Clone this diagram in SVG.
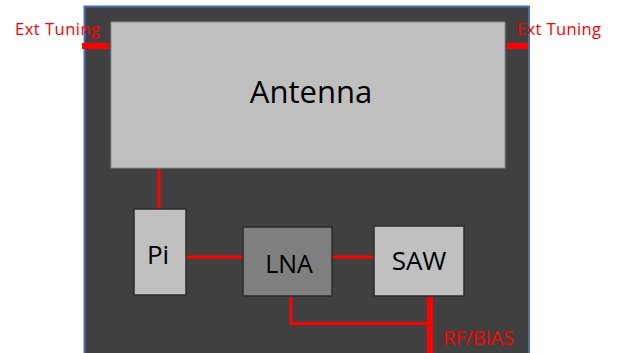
<svg xmlns="http://www.w3.org/2000/svg" width="627" height="353" viewBox="0 0 627 353">
<style>
.lbl{font-family:"Open Sans","Liberation Sans",sans-serif;fill:#000;text-anchor:middle}
.red{font-family:"Open Sans","Liberation Sans",sans-serif;fill:#ff0000}
.box{stroke:#2b2b2b;stroke-width:1.5}
.wire{stroke:#ff0000;stroke-width:3;fill:none}
</style>
<rect x="0" y="0" width="627" height="353" fill="#ffffff"/>
<g id="board">
<rect x="84.5" y="6.5" width="444.5" height="360" fill="#404040" stroke="#4a6fb0" stroke-width="2"/>
</g>
<g id="connectors">
<line class="wire" x1="159" y1="168" x2="159" y2="209"/>
<line class="wire" x1="186" y1="257" x2="243" y2="257"/>
<line class="wire" x1="332" y1="257" x2="374" y2="257"/>
<polyline class="wire" points="291,296 291,323.5 430,323.5"/>
<line stroke="#ff0000" stroke-width="6" x1="430" y1="296" x2="430" y2="353"/>
<rect x="82" y="43" width="27" height="6" fill="#ff0000"/>
<rect x="507" y="43" width="21" height="6" fill="#ff0000"/>
</g>
<g id="antenna">
<rect x="111" y="22" width="394" height="146" fill="#bfbfbf" stroke="#8c8c8c" stroke-width="1"/>
<text class="lbl" x="311" y="103" font-size="31">Antenna</text>
</g>
<g id="pi">
<rect class="box" x="134" y="209" width="52" height="86" fill="#bfbfbf"/>
<text class="lbl" x="158" y="264" font-size="26">Pi</text>
</g>
<g id="lna">
<rect class="box" x="243" y="227" width="89" height="69" fill="#7f7f7f" stroke-width="2"/>
<text class="lbl" x="289" y="273" font-size="25">LNA</text>
</g>
<g id="saw">
<rect class="box" x="374" y="226" width="90" height="70" fill="#c0c0c0" stroke-width="2"/>
<text class="lbl" x="419" y="270" font-size="26">SAW</text>
</g>
<g id="labels">
<text class="red" x="15" y="35" font-size="16.5" textLength="85">Ext Tuning</text>
<text class="red" x="517" y="35" font-size="16.5" textLength="84">Ext Tuning</text>
<text class="red" x="443" y="345" font-size="20" textLength="71">RF/BIAS</text>
</g>
</svg>
